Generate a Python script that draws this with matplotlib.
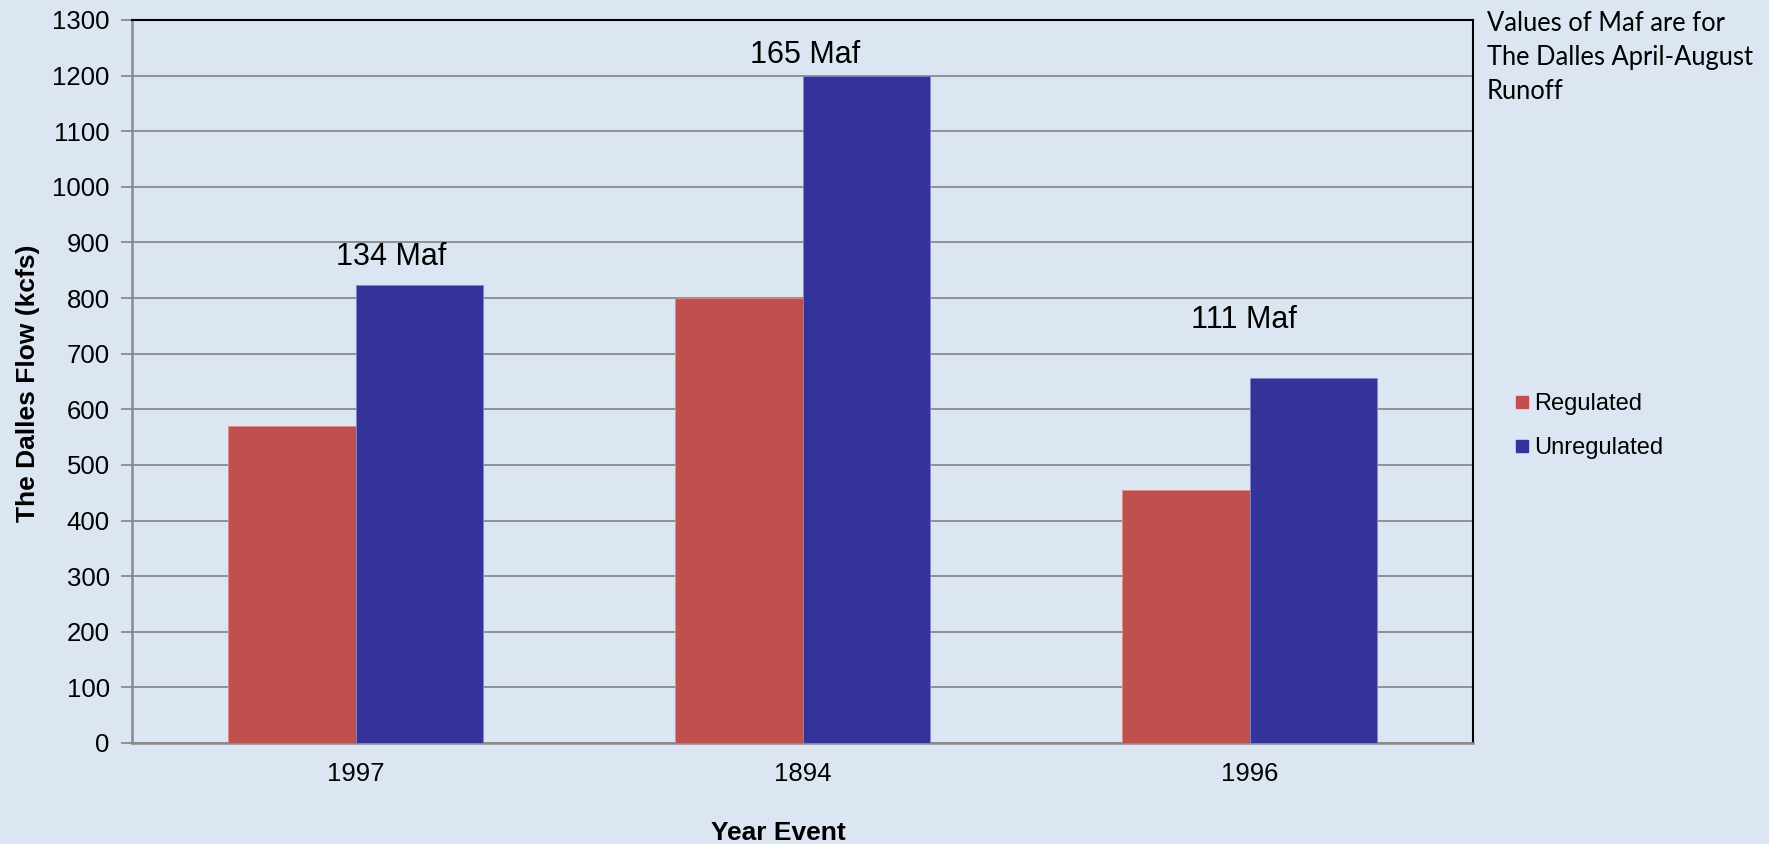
import numpy as np
import matplotlib.pyplot as plt
from matplotlib.lines import Line2D

years = ['1997', '1894', '1996']
regulated = [570, 800, 455]
unregulated = [824, 1200, 656]
runoff_labels = ['134 Maf', '165 Maf', '111 Maf']
label_x = [0.08, 0.005, -0.013]  # offset from category centre
label_y = [874, 1237, 760]

bg = '#DCE6F2'
red = '#C0504D'
blue = '#333399'
grid_c = '#8A8A8A'

W, H = 1769, 844
fig = plt.figure(figsize=(W/100, H/100), dpi=100, facecolor=bg)
ax = fig.add_axes([132/W, (H-743)/H, (1473-132)/W, (743-20)/H])
ax.set_facecolor(bg)

x = np.arange(len(years))
bw = 1/3.5
ax.bar(x - bw/2, regulated, bw, color=red, edgecolor='#D98C8A', linewidth=0.6, zorder=3)
ax.bar(x + bw/2, unregulated, bw, color=blue, edgecolor='#8585C8', linewidth=0.6, zorder=3)

for i in range(len(years)):
    ax.text(x[i] + label_x[i], label_y[i], runoff_labels[i], ha='center', va='center',
            fontsize=22, family='Liberation Sans', zorder=4)

ax.set_xlim(-0.5, len(years) - 0.5)
ax.set_ylim(0, 1300)
ax.set_yticks(np.arange(0, 1301, 100))
ax.set_xticks(x)
ax.set_xticklabels(years)
ax.yaxis.grid(True, color=grid_c, linewidth=1.3, zorder=0)
ax.set_axisbelow(True)

ax.tick_params(axis='y', direction='out', length=8, width=1.3, color=grid_c,
               labelsize=18.5, pad=8)
ax.tick_params(axis='x', length=0, labelsize=18.5, pad=14)
for lab in ax.get_xticklabels() + ax.get_yticklabels():
    lab.set_family('Liberation Sans')

ax.spines['left'].set_color(grid_c)
ax.spines['bottom'].set_color(grid_c)
ax.spines['left'].set_linewidth(1.8)
ax.spines['bottom'].set_linewidth(1.8)
ax.spines['top'].set_color('black')
ax.spines['right'].set_color('black')
ax.spines['top'].set_linewidth(1.5)
ax.spines['right'].set_linewidth(1.5)

fig.text(28/W, 1 - 383/H, 'The Dalles Flow (kcfs)', rotation=90, ha='center', va='center',
         fontsize=19, fontweight='bold', family='Liberation Sans')
fig.text(778/W, 1 - 833/H, 'Year Event', ha='center', va='center',
         fontsize=19, fontweight='bold', family='Liberation Sans')

fig.text(1487/W, 1 - 11/H, 'Values of Maf are for\nThe Dalles April-August\nRunoff',
         ha='left', va='top', fontsize=18.4, family='Lato', linespacing=1.46)

handles = [Line2D([], [], marker='s', linestyle='', markersize=8, color=red),
           Line2D([], [], marker='s', linestyle='', markersize=8, color=blue)]
fig.legend(handles, ['Regulated', 'Unregulated'], loc='center left',
           bbox_to_anchor=(1489/W, 1 - 426/H), frameon=False,
           prop={'family': 'Liberation Sans', 'size': 17},
           handletextpad=0.0, labelspacing=0.95, handlelength=1.0)

fig.savefig('out.png', dpi=100, facecolor=bg)
